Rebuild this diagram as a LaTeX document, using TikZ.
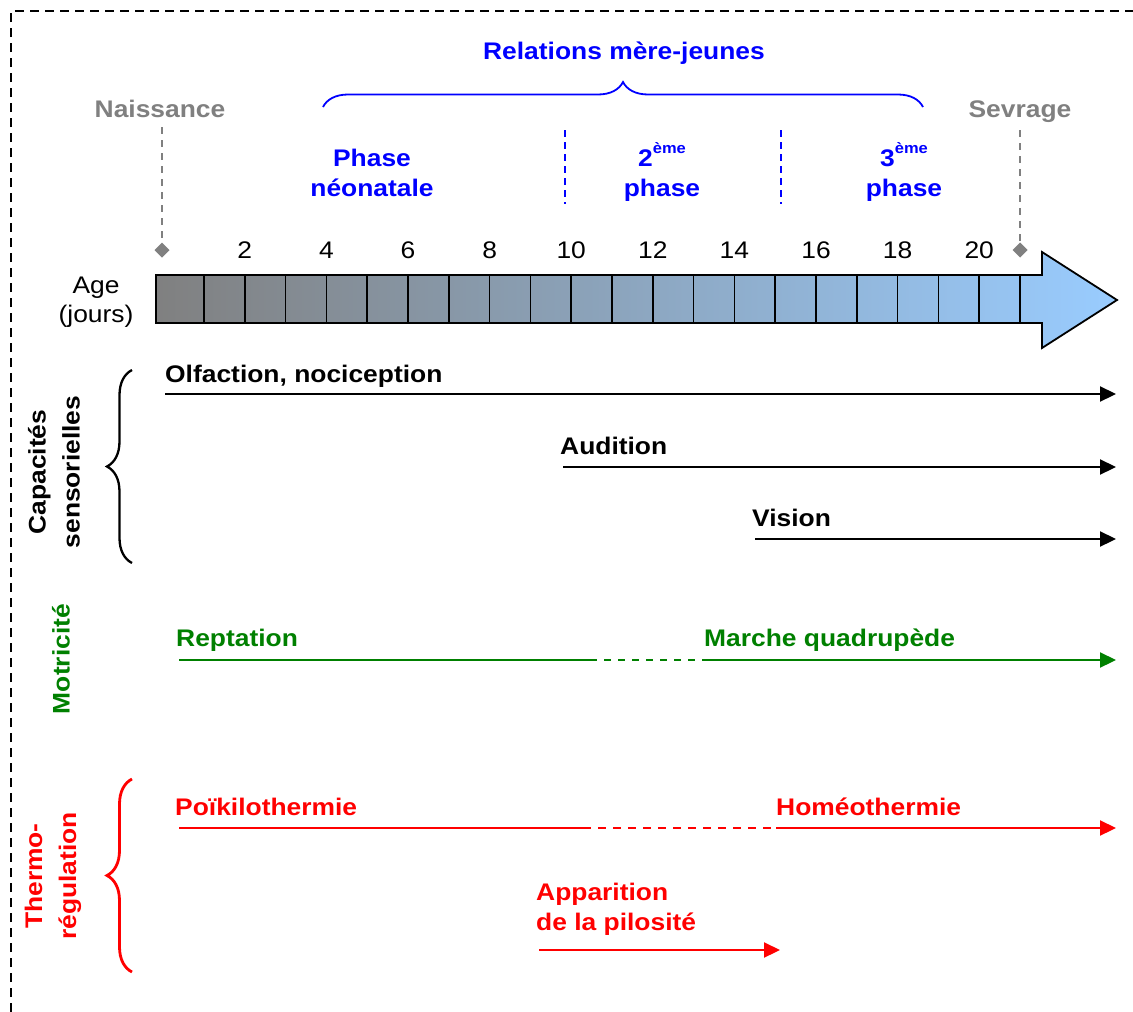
\documentclass[tikz,border=0pt]{standalone}
\usepackage{fontspec}
\setmainfont[FakeStretch=1.1]{Liberation Sans}
\usetikzlibrary{arrows.meta,decorations.pathreplacing}
\definecolor{myblue}{RGB}{0,0,255}
\definecolor{mygreen}{RGB}{0,128,0}
\definecolor{myred}{RGB}{255,0,0}
\definecolor{mygray}{RGB}{128,128,128}
\definecolor{barleft}{RGB}{128,128,128}
\definecolor{barright}{RGB}{153,204,255}
\begin{document}
\begin{tikzpicture}[x=1pt,y=-1pt,
  lbl/.style={inner sep=0pt,font=\fontsize{24}{30}\selectfont\bfseries},
  num/.style={inner sep=0pt,font=\fontsize{24}{29}\selectfont,anchor=base},
  vlbl/.style={inner sep=0pt,rotate=90,align=center,font=\fontsize{24}{34}\selectfont\bfseries},
  arr/.style={line width=2.2pt,-{Triangle[length=16pt,width=15pt]}},
  dsh/.style={dash pattern=on 7pt off 6pt},
  bigbrace/.style={decorate,decoration={brace,amplitude=25pt,aspect=0.5}},
  dia/.style={fill=mygray,draw=none}]
\useasboundingbox (0,0) rectangle (1133,1012);
\fill[white] (0,0) rectangle (1133,1012);
% border
\draw[line width=1.8pt,dash pattern=on 9pt off 6pt] (11,1012) -- (11,11) -- (1133,11);

% top labels
\node[lbl,text=myblue,anchor=base] (rel) at (624,59) {Relations mère-jeunes};
\coordinate (bl) at (323,107);
\coordinate (br) at (923,107);
\draw[myblue,line width=1.8pt,bigbrace] (bl) -- (br);

\node[lbl,text=mygray,anchor=base] (nais) at (160,117) {Naissance};
\node[lbl,text=mygray,anchor=base] (sevr) at (1020,117) {Sevrage};
\coordinate (d0) at (162,250);
\coordinate (d21) at (1020,250);
\coordinate (n0top) at (162,127);
\coordinate (n21top) at (1020,130);
\draw[mygray,line width=1.8pt,dsh] (n0top) -- ([yshift=-7pt]d0);
\draw[mygray,line width=1.8pt,dsh] (n21top) -- ([yshift=-7pt]d21);
\fill[dia] (d0) +(-7.5,0) -- +(0,-7.5) -- +(7.5,0) -- +(0,7.5) -- cycle;
\fill[dia] (d21) +(-7.5,0) -- +(0,-7.5) -- +(7.5,0) -- +(0,7.5) -- cycle;

% phases
\node[lbl,text=myblue,align=center,anchor=base] (ph1) at (372,196) {Phase\\néonatale};
\node[lbl,text=myblue,align=center,anchor=base] (ph2) at (662,196) {2{\fontsize{15}{15}\selectfont\raisebox{13pt}{ème}}\\phase};
\node[lbl,text=myblue,align=center,anchor=base] (ph3) at (904,196) {3{\fontsize{15}{15}\selectfont\raisebox{13pt}{ème}}\\phase};
\coordinate (s1t) at (565,130); \coordinate (s1b) at (565,204);
\coordinate (s2t) at (781,130); \coordinate (s2b) at (781,204);
\draw[myblue,line width=1.8pt,dash pattern=on 7pt off 5pt] (s1t) -- (s1b);
\draw[myblue,line width=1.8pt,dash pattern=on 7pt off 5pt] (s2t) -- (s2b);

% timeline arrow
\shade[left color=barleft,right color=barright]
  (156,275) -- (1042,275) -- (1042,252) -- (1117,300) -- (1042,348) -- (1042,323) -- (156,323) -- cycle;
\foreach \k in {1,...,21}{
  \draw[line width=1.6pt] ({204+(\k-1)*40.8},275) -- ({204+(\k-1)*40.8},323);
}
\draw[line width=1.8pt,line join=miter]
  (156,275) -- (1042,275) -- (1042,252) -- (1117,300) -- (1042,348) -- (1042,323) -- (156,323) -- cycle;
\foreach \k in {2,4,...,20}{
  \node[num] (n\k) at ({204+(\k-1)*40.8},258) {\k};
}
\node[num,align=center] (age) at (96,322) {Age\\(jours)};

% sensory
\node[vlbl] (cap) at (54,472) {Capacités\\sensorielles};
\coordinate (cbB) at (132,563); \coordinate (cbT) at (132,370);
\draw[line width=2.3pt,bigbrace] (cbB) -- (cbT);

\node[lbl,anchor=base west] (olf) at (165,382) {Olfaction, nociception};
\coordinate (olfA) at (165,394); \coordinate (olfB) at (1116,394);
\draw[arr] (olfA) -- (olfB);
\node[lbl,anchor=base west] (aud) at (560,454) {Audition};
\coordinate (audA) at (563,467); \coordinate (audB) at (1116,467);
\draw[arr] (audA) -- (audB);
\node[lbl,anchor=base west] (vis) at (752,526) {Vision};
\coordinate (visA) at (755,539); \coordinate (visB) at (1116,539);
\draw[arr] (visA) -- (visB);

% motor
\node[vlbl,text=mygreen] (mot) at (61,659) {Motricité};
\node[lbl,text=mygreen,anchor=base west] (rep) at (176,646) {Reptation};
\node[lbl,text=mygreen,anchor=base west] (mar) at (704,646) {Marche quadrupède};
\coordinate (gA) at (179,660); \coordinate (gB) at (590,660);
\coordinate (gC) at (706,660); \coordinate (gD) at (1116,660);
\draw[mygreen,line width=2.2pt] (gA) -- (gB);
\draw[mygreen,line width=2.2pt,dash pattern=on 7pt off 7pt] (gB) -- (gC);
\draw[mygreen,line width=2.2pt,-{Triangle[length=16pt,width=15pt]}] (gC) -- (gD);

% thermo
\node[vlbl,text=myred] (thr) at (53,876) {Thermo-\\régulation};
\coordinate (rbB) at (132,972); \coordinate (rbT) at (132,779);
\draw[myred,line width=2.8pt,bigbrace] (rbB) -- (rbT);
\node[lbl,text=myred,anchor=base west] (poi) at (175,815) {Poïkilothermie};
\node[lbl,text=myred,anchor=base west] (hom) at (776,815) {Homéothermie};
\coordinate (rA) at (179,828); \coordinate (rB) at (583,828);
\coordinate (rC) at (776,828); \coordinate (rD) at (1116,828);
\draw[myred,line width=2.2pt] (rA) -- (rB);
\draw[myred,line width=2.2pt,dash pattern=on 8pt off 7pt] (rB) -- (rC);
\draw[myred,line width=2.2pt,-{Triangle[length=16pt,width=15pt]}] (rC) -- (rD);
\node[lbl,text=myred,align=left,anchor=base west] (app) at (536,930) {Apparition\\de la pilosité};
\coordinate (pA) at (539,950); \coordinate (pB) at (780,950);
\draw[myred,line width=2.2pt,-{Triangle[length=16pt,width=15pt]}] (pA) -- (pB);
\end{tikzpicture}
\end{document}
